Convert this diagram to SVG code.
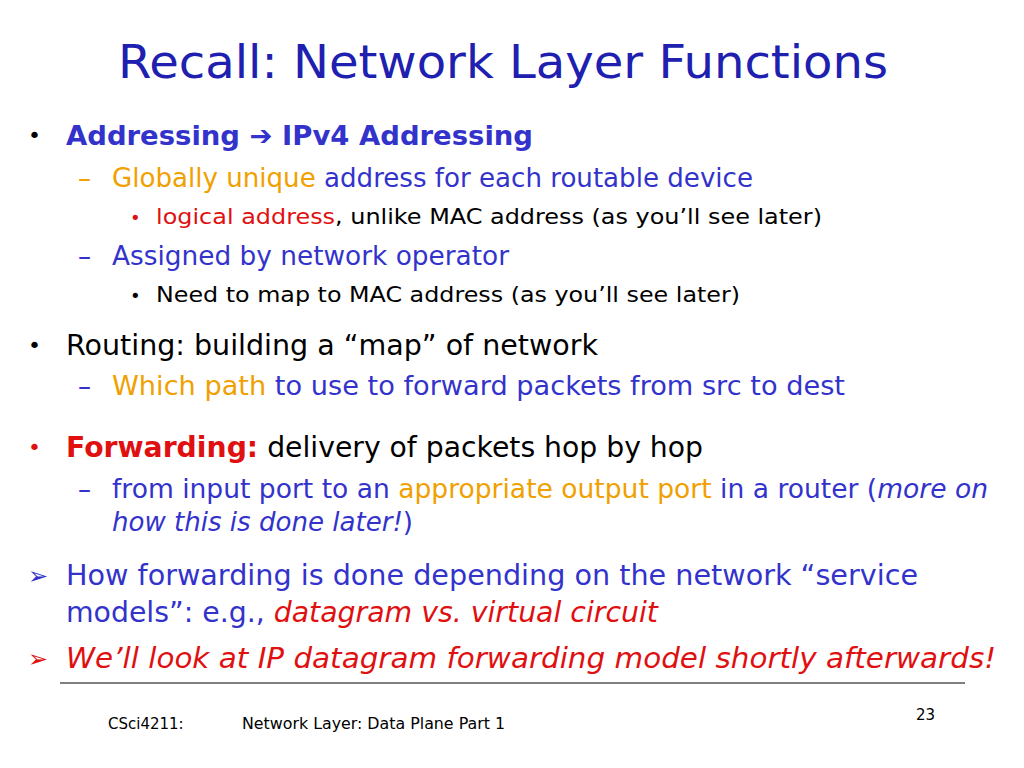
<svg xmlns="http://www.w3.org/2000/svg" width="1024" height="768" viewBox="0 0 1024 768">
<style>
text{font-family:"DejaVu Sans","Liberation Sans",sans-serif}
.b{fill:#3333cc}.o{fill:#f0a000}.r{fill:#e01010}.k{fill:#000}
.t{fill:#2020b0;font-size:46px}
.i{font-style:italic}
</style>
<rect width="1024" height="768" fill="#fff"/>
<text class="t" x="118" y="78" textLength="770" lengthAdjust="spacingAndGlyphs">Recall: Network Layer Functions</text>
<g font-size="26">
<text x="28" y="143" class="k" font-size="22">•</text>
<text x="66" y="145" font-size="27" font-weight="bold" class="b" textLength="467" lengthAdjust="spacingAndGlyphs">Addressing ➔ IPv4 Addressing</text>
<text x="78" y="187" class="o">–</text>
<text x="112" y="187" textLength="641" lengthAdjust="spacingAndGlyphs"><tspan class="o">Globally unique</tspan><tspan class="b"> address for each routable device</tspan></text>
<text x="130" y="224" class="r" font-size="18">•</text>
<text x="156" y="224" font-size="22" textLength="666" lengthAdjust="spacingAndGlyphs"><tspan class="r">logical address</tspan><tspan class="k">, unlike MAC address (as you’ll see later)</tspan></text>
<text x="78" y="265" class="b">–</text>
<text x="112" y="265" class="b" textLength="397" lengthAdjust="spacingAndGlyphs">Assigned by network operator</text>
<text x="130" y="302" class="k" font-size="18">•</text>
<text x="156" y="302" font-size="22" class="k" textLength="584" lengthAdjust="spacingAndGlyphs">Need to map to MAC address (as you’ll see later)</text>
<text x="28" y="353" class="k" font-size="22">•</text>
<text x="66" y="355" font-size="29" class="k" textLength="532" lengthAdjust="spacingAndGlyphs">Routing: building a “map” of network</text>
<text x="78" y="395" class="b">–</text>
<text x="112" y="395" textLength="733" lengthAdjust="spacingAndGlyphs"><tspan class="o">Which path</tspan><tspan class="b"> to use to forward packets from src to dest</tspan></text>
<text x="28" y="455" class="r" font-size="22">•</text>
<text x="66" y="457" font-size="29" textLength="637" lengthAdjust="spacingAndGlyphs"><tspan class="r" font-weight="bold">Forwarding:</tspan><tspan class="k"> delivery of packets hop by hop</tspan></text>
<text x="78" y="498" class="b">–</text>
<text x="112" y="498" textLength="876" lengthAdjust="spacingAndGlyphs"><tspan class="b">from input port to an </tspan><tspan class="o">appropriate output port</tspan><tspan class="b"> in a router (</tspan><tspan class="b i">more on</tspan></text>
<text x="112" y="531" textLength="301" lengthAdjust="spacingAndGlyphs"><tspan class="b i">how this is done later!</tspan><tspan class="b">)</tspan></text>
<text x="28" y="584" class="b" font-size="24">➢</text>
<text x="66" y="585" font-size="29" class="b" textLength="852" lengthAdjust="spacingAndGlyphs">How forwarding is done depending on the network “service</text>
<text x="66" y="622" font-size="29" textLength="592" lengthAdjust="spacingAndGlyphs"><tspan class="b">models”: e.g., </tspan><tspan class="r i">datagram vs. virtual circuit</tspan></text>
<text x="28" y="667" class="r" font-size="24">➢</text>
<text x="66" y="668" font-size="29" class="r i" textLength="930" lengthAdjust="spacingAndGlyphs">We’ll look at IP datagram forwarding model shortly afterwards!</text>
</g>
<line x1="60" y1="683" x2="965" y2="683" stroke="#000" stroke-width="1"/>
<g font-size="15" class="k">
<text x="108" y="729">CSci4211:</text>
<text x="242" y="729" textLength="263" lengthAdjust="spacingAndGlyphs">Network Layer: Data Plane Part 1</text>
<text x="916" y="720">23</text>
</g>
</svg>
